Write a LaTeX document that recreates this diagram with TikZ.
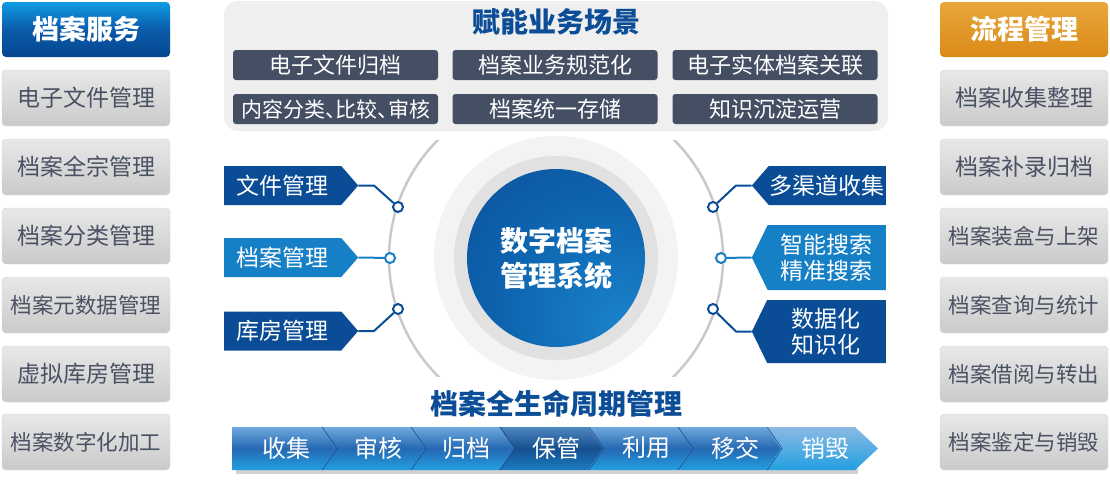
\documentclass[tikz,border=0pt]{standalone}
\usepackage{fontspec}
\setmainfont{Noto Sans CJK SC}
\usetikzlibrary{positioning,shapes.symbols}
\definecolor{titleblue}{HTML}{0B4D96}
\definecolor{tagdark}{HTML}{0A4D96}
\definecolor{taglight}{HTML}{1680C6}
\definecolor{scenegray}{HTML}{454F63}
\definecolor{panelgray}{HTML}{EFEFEF}
\definecolor{boxtop}{HTML}{E8E8E8}
\definecolor{boxbot}{HTML}{CACACA}
\definecolor{boxline}{HTML}{D6D6D6}
\definecolor{boxtext}{HTML}{4A5163}
\definecolor{headtop}{HTML}{0E9CE4}
\definecolor{headmid}{HTML}{0A5BAA}
\definecolor{headbot}{HTML}{05478F}
\definecolor{orangetop}{HTML}{E8A73C}
\definecolor{orangebot}{HTML}{DA8A16}
\definecolor{ringout}{HTML}{F3F3F3}
\definecolor{ringin}{HTML}{E1E1E1}
\definecolor{arcgray}{HTML}{C9C9C9}
\definecolor{corelight}{HTML}{1A84CC}
\definecolor{coremid}{HTML}{0E63AE}
\definecolor{coredark}{HTML}{0A4A94}
\definecolor{bartop}{HTML}{6EA8DD}
\definecolor{barmid}{HTML}{2569B3}
\definecolor{barbot}{HTML}{229FE0}
\definecolor{keeptop}{HTML}{4E86C0}
\definecolor{keepmid}{HTML}{16508F}
\definecolor{keepbot}{HTML}{1A7CC0}
\definecolor{barsep}{HTML}{1B4C85}
\pgfdeclareradialshading{coreshade}{\pgfpoint{20bp}{-20bp}}{color(0bp)=(corelight); color(30bp)=(coremid); color(60bp)=(coredark); color(100bp)=(coredark)}
\tikzset{
    headbox/.style={rounded corners=4pt, minimum width=168pt, minimum height=55pt, inner sep=0pt, text=white, font=\fontsize{27}{30}\selectfont\bfseries},
    sidebox/.style={draw=boxline, rounded corners=4pt, top color=boxtop, bottom color=boxbot, minimum width=168pt, minimum height=56pt, inner sep=0pt, text=boxtext, font=\fontsize{23}{26}\selectfont},
    sidelong/.style={sidebox, font=\fontsize{21.5}{26}\selectfont},
    panel/.style={fill=panelgray, rounded corners=14pt, minimum width=664pt, minimum height=130pt},
    scenetag/.style={fill=scenegray, rounded corners=3pt, minimum width=205pt, minimum height=30pt, inner sep=0pt, text=white, font=\fontsize{22}{24}\selectfont},
    title/.style={text=titleblue, font=\fontsize{28}{30}\selectfont\bfseries},
    tag/.style={signal, signal pointer angle=98, minimum width=134pt, minimum height=39pt, inner sep=0pt, text=white, align=center, font=\fontsize{23}{26}\selectfont},
    tallertag/.style={tag, signal pointer angle=128, minimum height=64pt},
    tagdot/.style={circle, draw=#1, fill=white, line width=2pt, minimum size=10pt, inner sep=0pt},
    link/.style={draw=#1, line width=2pt},
    steplabel/.style={text=white, font=\fontsize{24}{26}\selectfont},
    barseg/.style={top color=bartop, bottom color=barbot, middle color=barmid}
}

\begin{document}
\begin{tikzpicture}[x=1pt, y=-1pt]
    \useasboundingbox (0,0) rectangle (1110,480);

    % left column
    \node[headbox, top color=headtop, bottom color=headbot, middle color=headmid] (service) at (86,29.5) {档案服务};
    \node[sidebox] (l1) at (86,98) {电子文件管理};
    \node[sidebox] (l2) at (86,167) {档案全宗管理};
    \node[sidebox] (l3) at (86,236) {档案分类管理};
    \node[sidelong] (l4) at (86,305) {档案元数据管理};
    \node[sidebox] (l5) at (86,374) {虚拟库房管理};
    \node[sidelong] (l6) at (86,442) {档案数字化加工};

    % right column
    \node[headbox, top color=orangetop, bottom color=orangebot] (process) at (1024,29.5) {流程管理};
    \node[sidebox] (r1) at (1024,98) {档案收集整理};
    \node[sidebox] (r2) at (1024,167) {档案补录归档};
    \node[sidelong] (r3) at (1024,236) {档案装盒与上架};
    \node[sidelong] (r4) at (1024,305) {档案查询与统计};
    \node[sidelong] (r5) at (1024,374) {档案借阅与转出};
    \node[sidelong] (r6) at (1024,442) {档案鉴定与销毁};

    % scenes
    \node[panel] (scene) at (556,66) {};
    \node[title] (scenetitle) at (556,22) {赋能业务场景};
    \node[scenetag] (s1) at (335.5,65) {电子文件归档};
    \node[scenetag] (s2) at (555,65) {档案业务规范化};
    \node[scenetag] (s3) at (775,65) {电子实体档案关联};
    \node[scenetag, font=\fontsize{21}{24}\selectfont\addfontfeatures{RawFeature=+halt}] (s4) at (335.5,109) {内容分类、比较、审核};
    \node[scenetag] (s5) at (555,109) {档案统一存储};
    \node[scenetag] (s6) at (775,109) {知识沉淀运营};

    % core circle
    \node[circle, fill=ringout, minimum size=244pt] (ring) at (556,258) {};
    \node[circle, fill=ringin, minimum size=204pt] (inner) at (556,258) {};
    \node[circle, shading=coreshade, minimum size=178pt, text=white, align=center,
          font=\fontsize{28}{35}\selectfont\bfseries] (core) at (556,258) {数字档案\\管理系统};

    % side arcs
    \begin{scope}
        \clip (378,140) rectangle (440,376);
        \draw[arcgray, line width=2.5pt] (556,258) circle[radius=167pt];
    \end{scope}
    \begin{scope}
        \clip (672,140) rectangle (734,376);
        \draw[arcgray, line width=2.5pt] (556,258) circle[radius=167pt];
    \end{scope}

    % left tags
    \node[tag, signal to=east, fill=tagdark, anchor=west] (file) at (224,185.5) {文件管理};
    \node[tag, signal to=east, fill=taglight, anchor=west] (archive) at (224,257.5) {档案管理};
    \node[tag, signal to=east, fill=tagdark, anchor=west] (store) at (224,331) {库房管理};
    \node[tagdot=tagdark] (dl1) at (398,207) {};
    \node[tagdot=taglight] (dl2) at (390,258) {};
    \node[tagdot=tagdark] (dl3) at (398,309) {};
    \coordinate (kl1) at (374,185.5);
    \coordinate (kl3) at (374,331);
    \draw[link=tagdark] (file.east) -- (kl1) -- (dl1);
    \draw[link=taglight] (archive.east) -- (dl2);
    \draw[link=tagdark] (store.east) -- (kl3) -- (dl3);

    % right tags
    \node[tag, signal to=west, fill=tagdark, anchor=east] (collect) at (886,185.5) {多渠道收集};
    \node[tallertag, signal to=west, fill=taglight, minimum height=65pt, anchor=east] (search) at (886,257.5) {智能搜索\\精准搜索};
    \node[tallertag, signal to=west, fill=tagdark, minimum height=63pt, anchor=east] (know) at (886,331.5) {数据化\\知识化};
    \node[tagdot=tagdark] (dr1) at (713,207) {};
    \node[tagdot=taglight] (dr2) at (721,258) {};
    \node[tagdot=tagdark] (dr3) at (713,309) {};
    \coordinate (kr1) at (736,185.5);
    \coordinate (kr3) at (736,331.5);
    \draw[link=tagdark] (collect.west) -- (kr1) -- (dr1);
    \draw[link=taglight] (search.west) -- (dr2);
    \draw[link=tagdark] (know.west) -- (kr3) -- (dr3);

    % life cycle bar
    \node[title] (cycletitle) at (556,404) {档案全生命周期管理};
    \fill[black!18] (236,468) rectangle (858,474);
    \shade[barseg] (232,427) -- (321,427) -- (336,448.5) -- (321,470) -- (232,470) -- cycle;
    \shade[barseg] (321,427) -- (410,427) -- (425,448.5) -- (410,470) -- (321,470) -- (336,448.5) -- cycle;
    \shade[barseg] (410,427) -- (499,427) -- (514,448.5) -- (499,470) -- (410,470) -- (425,448.5) -- cycle;
    \shade[top color=keeptop, bottom color=keepbot, middle color=keepmid] (499,427) -- (588,427) -- (603,448.5) -- (588,470) -- (499,470) -- (514,448.5) -- cycle;
    \shade[barseg] (588,427) -- (677,427) -- (692,448.5) -- (677,470) -- (588,470) -- (603,448.5) -- cycle;
    \shade[barseg] (677,427) -- (766,427) -- (781,448.5) -- (766,470) -- (677,470) -- (692,448.5) -- cycle;
    \shade[barseg, top color=bartop!80!white] (766,427) -- (855,427) -- (878,448.5) -- (855,470) -- (766,470) -- (781,448.5) -- cycle;
    \draw[barsep, line width=1pt, opacity=0.7] (322,427) -- (337,448.5) -- (322,470);
    \draw[barsep, line width=1pt, opacity=0.7] (411,427) -- (426,448.5) -- (411,470);
    \draw[barsep, line width=1pt, opacity=0.7] (500,427) -- (515,448.5) -- (500,470);
    \draw[barsep, line width=1pt, opacity=0.7] (589,427) -- (604,448.5) -- (589,470);
    \draw[barsep, line width=1pt, opacity=0.7] (678,427) -- (693,448.5) -- (678,470);
    \draw[barsep, line width=1pt, opacity=0.7] (767,427) -- (782,448.5) -- (767,470);
    \node[steplabel] (p1) at (286,448) {收集};
    \node[steplabel] (p2) at (378,448) {审核};
    \node[steplabel] (p3) at (466,448) {归档};
    \node[steplabel] (p4) at (556,448) {保管};
    \node[steplabel] (p5) at (646,448) {利用};
    \node[steplabel] (p6) at (735,448) {移交};
    \node[steplabel] (p7) at (825,448) {销毁};
\end{tikzpicture}
\end{document}
